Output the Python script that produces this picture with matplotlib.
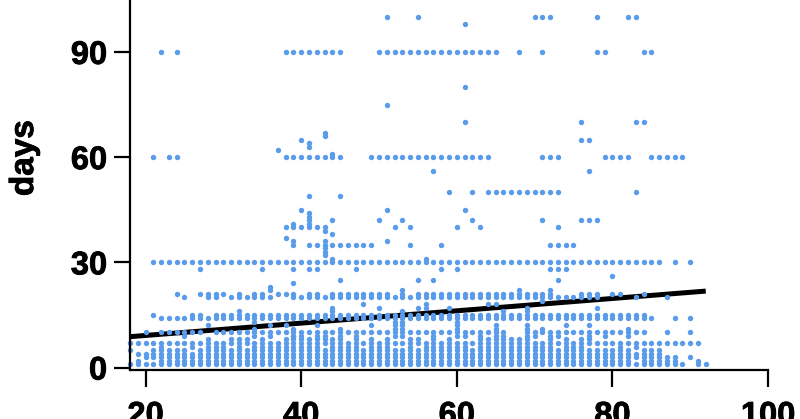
import matplotlib
matplotlib.use('Agg')
import matplotlib.pyplot as plt
import matplotlib.patheffects as pe

plt.rcParams['font.family'] = ['Liberation Sans', 'DejaVu Sans']
plt.rcParams['font.weight'] = 'bold'

# solid columns at the bottom: every day from 1 up to the top value
col_ages = [22, 23, 24, 25, 26, 27, 28, 29, 30, 31, 32, 33, 34, 35, 36, 37, 38, 39, 40, 41, 42, 43, 44, 45, 46,
            47, 48, 49, 50, 51, 52, 53, 54, 55, 56, 57, 58, 59, 60, 61, 62, 63, 64, 65, 66, 67, 68, 69, 70,
            71, 72, 73, 74, 75, 76, 77, 78, 79, 80, 81, 82, 83, 84, 85, 86]
col_tops = [7, 7, 7, 7, 7, 7, 8, 7, 7, 8, 8, 8, 7, 8, 7, 7, 8, 9, 10, 8, 10, 10, 8, 7, 7,
            10, 7, 8, 7, 8, 7, 7, 8, 8, 7, 10, 7, 8, 7, 7, 7, 10, 8, 12, 10, 8, 8, 12, 7,
            7, 10, 7, 8, 7, 8, 7, 7, 7, 7, 7, 7, 7, 7, 7, 7]

# holes in those columns
missing_6 = [23, 24, 25, 27, 31, 33, 43, 48, 52, 53, 55, 62, 73, 77, 78, 79, 80, 82, 84, 85, 86]
missing_5 = [26, 83]
missing_2 = [83]

# the thin ends of the age range
edge_ages = [18, 18, 18, 19, 19, 19, 19, 20, 20, 20, 20, 21, 21, 21, 21, 21,
             87, 87, 87, 87, 88, 88, 88, 88, 89, 89, 90, 90, 91, 91, 91, 92]
edge_days = [1, 5, 7, 1, 2, 4, 7, 1, 3, 4, 7, 1, 3, 4, 5, 7,
             1, 2, 3, 7, 1, 2, 3, 7, 1, 7, 3, 7, 1, 2, 7, 1]

day_8 = [45, 77]
day_9 = [25, 34, 36, 39, 45, 52, 53, 60, 61, 70, 73, 77, 79, 82]
day_10 = [20, 22, 23, 24, 25, 26, 27, 29, 30, 31, 32, 33, 34, 35, 36, 37, 38, 39, 41, 44, 45, 46, 48, 49, 50,
          51, 52, 53, 54, 55, 56, 58, 59, 60, 61, 62, 64, 70, 71, 73, 74, 75, 76, 77, 78, 79, 80, 81, 82, 83, 84,
          87, 90]
day_11 = [34, 39, 45, 52, 53, 60, 71, 82]
day_12 = [28, 36, 38, 42, 49, 52, 53, 60, 74, 77]
day_13 = [34, 52, 53, 60]
day_14 = [22, 23, 24, 25, 26, 27, 28, 29, 30, 31, 32, 33, 34, 35, 36, 37, 38, 39, 40, 41, 42, 43, 44, 45, 46,
          47, 48, 49, 50, 51, 52, 53, 54, 55, 56, 57, 58, 59, 60, 61, 62, 63, 64, 65, 66, 67, 68, 69, 70,
          71, 72, 73, 74, 75, 76, 77, 78, 79, 80, 81, 82, 83, 84, 85, 88, 90]
day_15 = [21, 26, 27, 29, 30, 31, 32, 33, 34, 35, 36, 37, 38, 39, 40, 41, 42, 43, 44, 45, 46, 47, 48, 49, 50,
          51, 52, 53, 54, 55, 56, 57, 58, 59, 60, 61, 62, 63, 64, 65, 66, 67, 68, 69, 70, 71, 72, 73, 74,
          75, 76, 77, 78, 79, 80, 81, 82, 83, 84]
day_16 = [32, 44, 53, 66, 69]
day_17 = [44, 50, 55, 56, 59, 69, 78]
day_18 = [48, 56, 64, 65]
day_19 = [71]
day_20 = [25, 28, 29, 31, 32, 33, 34, 35, 36, 39, 40, 41, 42, 43, 44, 45, 46, 47, 48, 49, 50, 51, 52, 53, 54,
          55, 56, 57, 58, 59, 60, 61, 62, 63, 64, 65, 66, 67, 68, 69, 70, 71, 72, 73, 74, 75, 76, 77, 78, 83, 87]
day_21 = [24, 27, 28, 29, 30, 32, 34, 35, 37, 38, 39, 41, 42, 44, 45, 46, 47, 48, 49, 50, 51, 53, 55, 56, 57,
          58, 59, 60, 61, 62, 63, 64, 65, 66, 67, 68, 69, 70, 71, 72, 76, 77, 78, 80, 81, 84]
day_22 = [36, 53, 68, 72]
day_23 = [36]
day_24 = [39]
day_25 = [45, 55, 57, 73]
day_26 = [80]
day_28 = [27, 35, 39, 41, 42, 47, 58, 60, 72, 73, 74]
day_30 = [21, 22, 23, 24, 25, 26, 27, 28, 29, 30, 31, 32, 33, 34, 35, 36, 37, 38, 39, 40, 41, 42, 43, 44, 45,
          46, 47, 48, 49, 50, 51, 52, 53, 54, 55, 56, 57, 58, 59, 60, 61, 62, 63, 64, 65, 66, 67, 68, 69,
          70, 71, 72, 73, 74, 75, 76, 77, 78, 79, 80, 81, 82, 83, 84, 85, 86, 88, 90]
day_31 = [44, 56]
day_32 = [43]
day_33 = [43]
day_34 = [43]
day_35 = [39, 41, 42, 43, 44, 45, 46, 47, 48, 49, 54, 58, 72, 73, 74, 75]
day_36 = [39, 43, 51]
day_37 = [38]
day_38 = [44]
day_39 = [43]
day_40 = [38, 39, 40, 41, 42, 43, 52, 54, 60, 63, 73]
day_41 = [39, 41]
day_42 = [41, 44, 50, 53, 62, 71, 76, 77, 78]
day_43 = [41]
day_44 = [41]
day_45 = [40, 51, 61]
day_49 = [41, 45]
day_50 = [59, 62, 64, 65, 66, 67, 68, 69, 70, 71, 72, 73, 83]
day_56 = [57, 77]
day_60 = [21, 23, 24, 38, 39, 40, 41, 42, 43, 44, 45, 49, 50, 51, 52, 53, 54, 55, 56, 57, 58, 59, 60, 61, 62,
          63, 64, 71, 72, 73, 79, 80, 81, 82, 85, 86, 87, 88, 89]
day_61 = [44]
day_62 = [37]
day_63 = [41]
day_64 = [41]
day_65 = [40, 76, 77]
day_66 = [43]
day_67 = [43]
day_70 = [61, 76, 83, 84]
day_75 = [51]
day_80 = [61]
day_90 = [22, 24, 38, 39, 40, 41, 42, 43, 44, 45, 50, 51, 52, 53, 54, 55, 56, 57, 58, 59, 60, 61, 62, 63, 64,
          65, 68, 71, 78, 79, 84, 85]
day_98 = [61]
day_100 = [51, 55, 70, 71, 72, 78, 82, 83]

rows = [(8, day_8), (9, day_9), (10, day_10), (11, day_11), (12, day_12), (13, day_13), (14, day_14),
        (15, day_15), (16, day_16), (17, day_17), (18, day_18), (19, day_19), (20, day_20), (21, day_21),
        (22, day_22), (23, day_23), (24, day_24), (25, day_25), (26, day_26), (28, day_28), (30, day_30),
        (31, day_31), (32, day_32), (33, day_33), (34, day_34), (35, day_35), (36, day_36), (37, day_37),
        (38, day_38), (39, day_39), (40, day_40), (41, day_41), (42, day_42), (43, day_43), (44, day_44),
        (45, day_45), (49, day_49), (50, day_50), (56, day_56), (60, day_60), (61, day_61), (62, day_62),
        (63, day_63), (64, day_64), (65, day_65), (66, day_66), (67, day_67), (70, day_70), (75, day_75),
        (80, day_80), (90, day_90), (98, day_98), (100, day_100)]

fit_age = [18, 92]
fit_days = [8.8, 21.8]

x_ticks = [20, 40, 60, 80, 100]
y_ticks = [0, 30, 60, 90]

ages = list(edge_ages)
days = list(edge_days)
for age, top in zip(col_ages, col_tops):
    for d in range(1, top + 1):
        if d == 6 and age in missing_6:
            continue
        if d == 5 and age in missing_5:
            continue
        if d == 2 and age in missing_2:
            continue
        ages.append(age)
        days.append(d)
for d, row in rows:
    ages.extend(row)
    days.extend([d] * len(row))

fig = plt.figure(figsize=(8, 4.19), dpi=100)
ax = fig.add_axes([130 / 800, 49 / 419, 638 / 800, 370 / 419])

ax.plot(fit_age, fit_days, color='black', linewidth=3.6, solid_capstyle='butt', zorder=1)
ax.scatter(ages, days, s=15, color='#5a9bea', linewidths=0, clip_on=False, zorder=2)

ax.set_xlim(18, 100)
ax.set_ylim(-0.7, 104.8)
ax.set_xticks(x_ticks)
ax.set_yticks(y_ticks)

for side in ['top', 'right']:
    ax.spines[side].set_visible(False)
for side in ['left', 'bottom']:
    ax.spines[side].set_linewidth(1.6)

ax.tick_params(axis='x', length=12, width=1.6, pad=10, labelsize=23.5)
ax.tick_params(axis='y', length=11.5, width=1.6, pad=5, labelsize=23.5)

days_label = fig.text(33 / 800, 1 - 158 / 419, 'days', rotation=90, fontsize=24, fontweight='bold',
                      ha='center', va='baseline', rotation_mode='anchor')

# the reference type is a bit heavier than plain bold
heavy = [pe.withStroke(linewidth=0.6, foreground='black')]
days_label.set_path_effects(heavy)
for label in ax.get_xticklabels() + ax.get_yticklabels():
    label.set_path_effects(heavy)

fig.savefig('out.png', dpi=100)
